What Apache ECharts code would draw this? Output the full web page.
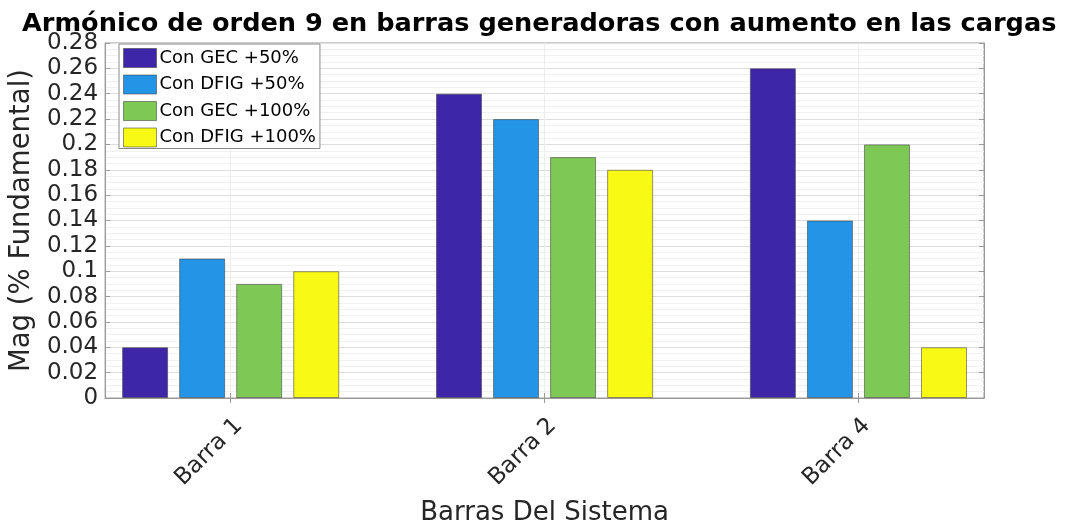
<!DOCTYPE html>
<html>
<head>
<meta charset="utf-8">
<script src="https://cdn.jsdelivr.net/npm/echarts@6/dist/echarts.min.js"></script>
<style>
  html, body { margin: 0; padding: 0; background: #fff; }
  #chart { width: 1071px; height: 531px; }
</style>
</head>
<body>
<div id="chart"></div>
<script>
// ---- data ----
const categories = ['Barra 1', 'Barra 2', 'Barra 4'];
const positions = [1, 2, 3];
const seriesNames = ['Con GEC +50%', 'Con DFIG +50%', 'Con GEC +100%', 'Con DFIG +100%'];
const gec50 = [0.04, 0.24, 0.26];
const dfig50 = [0.11, 0.22, 0.14];
const gec100 = [0.09, 0.19, 0.20];
const dfig100 = [0.10, 0.18, 0.04];
const seriesColors = ['#3D26A8', '#2494E6', '#7EC856', '#F8F914'];
const yMin = 0, yMax = 0.28, yStep = 0.02;
const xMin = 0.6, xMax = 3.4, xStep = 0.2;

const FONT = 'DejaVu Sans';
const TXT = '#262626';
const FRAME = '#9a9a9a';

const allValues = [gec50, dfig50, gec100, dfig100];

const series = allValues.map((vals, i) => ({
  name: seriesNames[i],
  type: 'bar',
  xAxisIndex: 0,
  yAxisIndex: 0,
  barWidth: 46,
  barGap: '24%',
  data: positions.map((p, j) => [p, vals[j]]),
  itemStyle: {
    color: seriesColors[i],
    borderColor: 'rgba(60,60,60,0.55)',
    borderWidth: 1
  },
  emphasis: { disabled: true }
}));

const chart = echarts.init(document.getElementById('chart'), null, { renderer: 'canvas' });
chart.setOption({
  backgroundColor: '#ffffff',
  animation: false,
  title: {
    text: 'Armónico de orden 9 en barras generadoras con aumento en las cargas',
    left: 17,
    top: 6,
    textStyle: { fontFamily: FONT, fontSize: 25.6, fontWeight: 'bold', color: '#000' }
  },
  legend: {
    orient: 'vertical',
    left: 119,
    top: 44,
    itemWidth: 33,
    itemHeight: 19,
    itemGap: 6.5,
    padding: [4, 4, 1, 4],
    borderColor: '#8a8a8a',
    borderWidth: 1,
    backgroundColor: '#fff',
    icon: 'rect',
    data: seriesNames,
    textStyle: { fontFamily: FONT, fontSize: 18, color: '#000', padding: [0, 0, 0, -2] },
    itemStyle: { borderColor: 'rgba(60,60,60,0.55)', borderWidth: 1 }
  },
  grid: {
    left: 104, right: 87, top: 43, bottom: 132,
    show: true, borderColor: FRAME, borderWidth: 1, backgroundColor: '#fff'
  },
  xAxis: [{
    type: 'value',
    min: xMin, max: xMax, interval: xStep,
    position: 'bottom',
    name: 'Barras Del Sistema',
    nameLocation: 'middle',
    nameGap: 102,
    nameTextStyle: { fontFamily: FONT, fontSize: 26, color: TXT },
    axisLine: { show: true, lineStyle: { color: FRAME } },
    axisTick: { show: true, inside: true, length: 5, customValues: positions, lineStyle: { color: FRAME } },
    axisLabel: {
      customValues: positions,
      rotate: 45,
      margin: 16,
      verticalAlign: 'top',
      fontFamily: FONT, fontSize: 23, color: TXT,
      formatter: v => categories[Math.round(v) - 1]
    },
    splitLine: { show: true, lineStyle: { color: '#ececec', width: 1 } }
  }, {
    type: 'value',
    min: xMin, max: xMax, interval: xStep,
    position: 'top',
    axisLine: { show: true, lineStyle: { color: FRAME } },
    axisTick: { show: true, inside: true, length: 5, customValues: positions, lineStyle: { color: FRAME } },
    axisLabel: { show: false },
    splitLine: { show: false }
  }],
  yAxis: [{
    type: 'value',
    min: yMin, max: yMax, interval: yStep,
    position: 'left',
    name: 'Mag (% Fundamental)',
    nameLocation: 'middle',
    nameRotate: 90,
    nameGap: 61,
    nameTextStyle: { fontFamily: FONT, fontSize: 27.5, color: TXT },
    axisLine: { show: true, lineStyle: { color: FRAME } },
    axisTick: { show: true, inside: true, length: 5, lineStyle: { color: FRAME } },
    axisLabel: {
      margin: 7,
      fontFamily: FONT, fontSize: 23, color: TXT,
      formatter: v => String(+v.toFixed(2))
    },
    splitLine: { show: true, lineStyle: { color: '#dedede', width: 1 } },
    minorTick: { show: false, splitNumber: 4 },
    minorSplitLine: { show: true, lineStyle: { color: '#f1f1f1', width: 1 } }
  }, {
    type: 'value',
    min: yMin, max: yMax, interval: yStep,
    position: 'right',
    axisLine: { show: true, lineStyle: { color: FRAME } },
    axisTick: { show: true, inside: true, length: 5, lineStyle: { color: FRAME } },
    axisLabel: { show: false },
    splitLine: { show: false }
  }],
  series: series
});
</script>
</body>
</html>
